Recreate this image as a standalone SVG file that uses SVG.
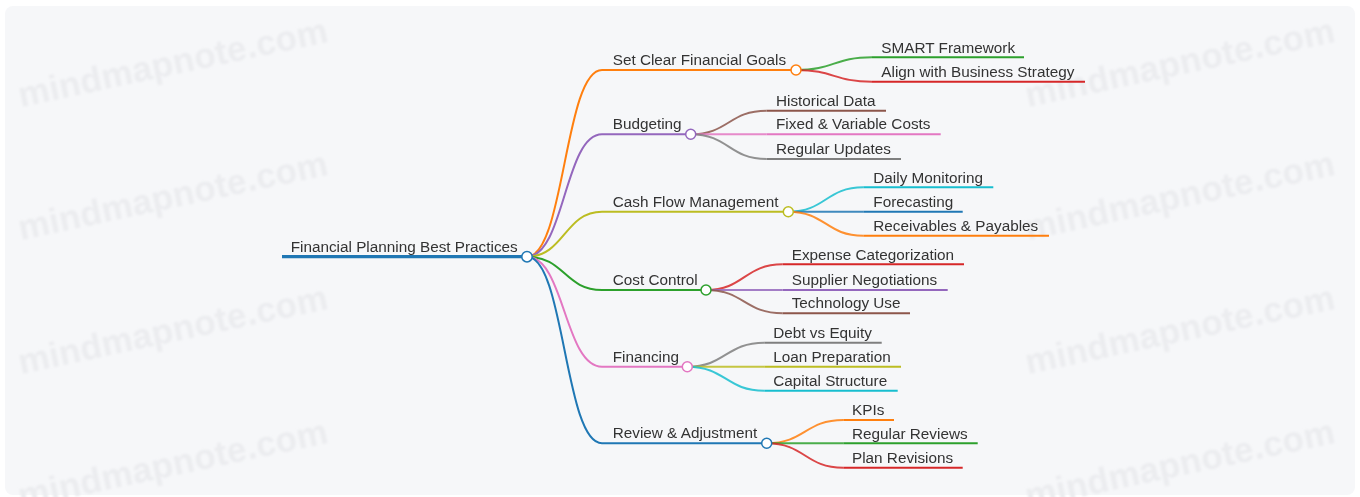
<svg xmlns="http://www.w3.org/2000/svg" width="1360" height="497" viewBox="0 0 1360 497">
  <defs>
    <filter id="soft" x="-5%" y="-20%" width="110%" height="140%">
      <feGaussianBlur stdDeviation="0.8"/>
    </filter>
  </defs>
  <style>
    .wm { font-family: "Liberation Sans", Arial, sans-serif; font-size: 35px; font-weight: bold; fill: #ebecef; letter-spacing: 0.3px; }
    .lbl { font-family: "Liberation Sans", Arial, sans-serif; font-size: 15.3px; fill: #333; }
    .ul { fill: none; stroke-linecap: butt; }
    .link { fill: none; stroke-width: 2; }
    .sub { stroke-opacity: 0.85; }
    .dot { fill: #fff; stroke-width: 1.5; }
  </style>

  <rect x="0" y="0" width="1360" height="497" fill="#fff"/>
  <rect x="5" y="6" width="1350" height="489" rx="8" fill="#f6f7f9"/>

  <!-- watermark grid -->
  <g id="watermark" filter="url(#soft)">
    <text class="wm" transform="translate(21 107) rotate(-12)">mindmapnote.com</text>
    <text class="wm" transform="translate(21 240) rotate(-12)">mindmapnote.com</text>
    <text class="wm" transform="translate(21 374) rotate(-12)">mindmapnote.com</text>
    <text class="wm" transform="translate(21 508) rotate(-12)">mindmapnote.com</text>
    <text class="wm" transform="translate(1028 107) rotate(-12)">mindmapnote.com</text>
    <text class="wm" transform="translate(1028 240) rotate(-12)">mindmapnote.com</text>
    <text class="wm" transform="translate(1028 374) rotate(-12)">mindmapnote.com</text>
    <text class="wm" transform="translate(1028 508) rotate(-12)">mindmapnote.com</text>
  </g>

  <!-- connectors -->
  <g id="links">
    <!-- root to main branches -->
    <path class="link" stroke="#ff7f0e" d="M527,256.7 C564.5,256.7 564.5,70 602,70"/>
    <path class="link" stroke="#9467bd" d="M527,256.7 C564.5,256.7 564.5,134.3 602,134.3"/>
    <path class="link" stroke="#bcbd22" d="M527,256.7 C564.5,256.7 564.5,211.7 602,211.7"/>
    <path class="link" stroke="#2ca02c" d="M527,256.7 C564.5,256.7 564.5,290 602,290"/>
    <path class="link" stroke="#e377c2" d="M527,256.7 C564.5,256.7 564.5,366.7 602,366.7"/>
    <path class="link" stroke="#1f77b4" d="M527,256.7 C564.5,256.7 564.5,443.3 602,443.3"/>

    <!-- Set Clear Financial Goals -->
    <path class="link sub" stroke="#2ca02c" d="M796,70 C834,70 834,57.3 872,57.3"/>
    <path class="link sub" stroke="#d62728" d="M796,70 C834,70 834,81.7 872,81.7"/>

    <!-- Budgeting -->
    <path class="link sub" stroke="#8c564b" d="M690.7,134.3 C728.7,134.3 728.7,110.7 766.7,110.7"/>
    <path class="link sub" stroke="#e377c2" d="M690.7,134.3 L766.7,134.3"/>
    <path class="link sub" stroke="#7f7f7f" d="M690.7,134.3 C728.7,134.3 728.7,159 766.7,159"/>

    <!-- Cash Flow Management -->
    <path class="link sub" stroke="#17becf" d="M788.3,211.7 C825.8,211.7 825.8,187.3 863.3,187.3"/>
    <path class="link sub" stroke="#1f77b4" d="M788.3,211.7 L863.3,211.7"/>
    <path class="link sub" stroke="#ff7f0e" d="M788.3,211.7 C825.8,211.7 825.8,235.7 863.3,235.7"/>

    <!-- Cost Control -->
    <path class="link sub" stroke="#d62728" d="M706,290 C744.3,290 744.3,264.3 782.7,264.3"/>
    <path class="link sub" stroke="#9467bd" d="M706,290 L782.7,290"/>
    <path class="link sub" stroke="#8c564b" d="M706,290 C744.3,290 744.3,313.3 782.7,313.3"/>

    <!-- Financing -->
    <path class="link sub" stroke="#7f7f7f" d="M687.3,366.7 C725.8,366.7 725.8,342.7 764.3,342.7"/>
    <path class="link sub" stroke="#bcbd22" d="M687.3,366.7 L764.3,366.7"/>
    <path class="link sub" stroke="#17becf" d="M687.3,366.7 C725.8,366.7 725.8,390.7 764.3,390.7"/>

    <!-- Review & Adjustment -->
    <path class="link sub" stroke="#ff7f0e" d="M766.7,443.3 C805,443.3 805,420 843.3,420"/>
    <path class="link sub" stroke="#2ca02c" d="M766.7,443.3 L843.3,443.3"/>
    <path class="link sub" stroke="#d62728" d="M766.7,443.3 C805,443.3 805,467.7 843.3,467.7"/>
  </g>

  <!-- root -->
  <g id="node-root">
    <line class="ul" x1="282" y1="256.7" x2="527" y2="256.7" stroke="#1f77b4" stroke-width="3.3"/>
    <text class="lbl" x="290.7" y="251.7">Financial Planning Best Practices</text>
    <circle class="dot" cx="527" cy="256.7" r="5.2" stroke="#1f77b4"/>
  </g>

  <!-- main branches -->
  <g id="node-goals">
    <line class="ul" x1="602" y1="70" x2="796" y2="70" stroke="#ff7f0e" stroke-width="2"/>
    <text class="lbl" x="612.7" y="64.7">Set Clear Financial Goals</text>
    <circle class="dot" cx="796" cy="70" r="5" stroke="#ff7f0e"/>
  </g>
  <g id="node-budgeting">
    <line class="ul" x1="602" y1="134.3" x2="690.7" y2="134.3" stroke="#9467bd" stroke-width="2"/>
    <text class="lbl" x="612.7" y="129.3">Budgeting</text>
    <circle class="dot" cx="690.7" cy="134.3" r="5" stroke="#9467bd"/>
  </g>
  <g id="node-cashflow">
    <line class="ul" x1="602" y1="211.7" x2="788.3" y2="211.7" stroke="#bcbd22" stroke-width="2"/>
    <text class="lbl" x="612.7" y="206.7">Cash Flow Management</text>
    <circle class="dot" cx="788.3" cy="211.7" r="5" stroke="#bcbd22"/>
  </g>
  <g id="node-cost">
    <line class="ul" x1="602" y1="290" x2="706" y2="290" stroke="#2ca02c" stroke-width="2"/>
    <text class="lbl" x="612.7" y="285">Cost Control</text>
    <circle class="dot" cx="706" cy="290" r="5" stroke="#2ca02c"/>
  </g>
  <g id="node-financing">
    <line class="ul" x1="602" y1="366.7" x2="687.3" y2="366.7" stroke="#e377c2" stroke-width="2"/>
    <text class="lbl" x="612.7" y="361.7">Financing</text>
    <circle class="dot" cx="687.3" cy="366.7" r="5" stroke="#e377c2"/>
  </g>
  <g id="node-review">
    <line class="ul" x1="602" y1="443.3" x2="766.7" y2="443.3" stroke="#1f77b4" stroke-width="2"/>
    <text class="lbl" x="612.7" y="438.3">Review &amp; Adjustment</text>
    <circle class="dot" cx="766.7" cy="443.3" r="5" stroke="#1f77b4"/>
  </g>

  <!-- leaves: Set Clear Financial Goals -->
  <g id="node-smart">
    <line class="ul" x1="872" y1="57.3" x2="1024" y2="57.3" stroke="#2ca02c" stroke-width="2"/>
    <text class="lbl" x="881.3" y="52.5">SMART Framework</text>
  </g>
  <g id="node-align">
    <line class="ul" x1="872" y1="81.7" x2="1085" y2="81.7" stroke="#d62728" stroke-width="2"/>
    <text class="lbl" x="881.3" y="76.7">Align with Business Strategy</text>
  </g>

  <!-- leaves: Budgeting -->
  <g id="node-historical">
    <line class="ul" x1="766.7" y1="110.7" x2="886" y2="110.7" stroke="#8c564b" stroke-width="2"/>
    <text class="lbl" x="776" y="105.7">Historical Data</text>
  </g>
  <g id="node-fixed">
    <line class="ul" x1="766.7" y1="134.3" x2="940.7" y2="134.3" stroke="#e377c2" stroke-width="2"/>
    <text class="lbl" x="776" y="129.3">Fixed &amp; Variable Costs</text>
  </g>
  <g id="node-updates">
    <line class="ul" x1="766.7" y1="159" x2="901" y2="159" stroke="#7f7f7f" stroke-width="2"/>
    <text class="lbl" x="776" y="153.7">Regular Updates</text>
  </g>

  <!-- leaves: Cash Flow Management -->
  <g id="node-daily">
    <line class="ul" x1="863.3" y1="187.3" x2="993.3" y2="187.3" stroke="#17becf" stroke-width="2"/>
    <text class="lbl" x="873.3" y="182.5">Daily Monitoring</text>
  </g>
  <g id="node-forecasting">
    <line class="ul" x1="863.3" y1="211.7" x2="962.7" y2="211.7" stroke="#1f77b4" stroke-width="2"/>
    <text class="lbl" x="873.3" y="206.7">Forecasting</text>
  </g>
  <g id="node-receivables">
    <line class="ul" x1="863.3" y1="235.7" x2="1049" y2="235.7" stroke="#ff7f0e" stroke-width="2"/>
    <text class="lbl" x="873.3" y="230.9">Receivables &amp; Payables</text>
  </g>

  <!-- leaves: Cost Control -->
  <g id="node-expense">
    <line class="ul" x1="782.7" y1="264.3" x2="964" y2="264.3" stroke="#d62728" stroke-width="2"/>
    <text class="lbl" x="791.7" y="260.3">Expense Categorization</text>
  </g>
  <g id="node-supplier">
    <line class="ul" x1="782.7" y1="290" x2="947.7" y2="290" stroke="#9467bd" stroke-width="2"/>
    <text class="lbl" x="791.7" y="285">Supplier Negotiations</text>
  </g>
  <g id="node-technology">
    <line class="ul" x1="782.7" y1="313.3" x2="910" y2="313.3" stroke="#8c564b" stroke-width="2"/>
    <text class="lbl" x="791.7" y="308.3">Technology Use</text>
  </g>

  <!-- leaves: Financing -->
  <g id="node-debt">
    <line class="ul" x1="764.3" y1="342.7" x2="881.7" y2="342.7" stroke="#7f7f7f" stroke-width="2"/>
    <text class="lbl" x="773.3" y="338.3">Debt vs Equity</text>
  </g>
  <g id="node-loan">
    <line class="ul" x1="764.3" y1="366.7" x2="901" y2="366.7" stroke="#bcbd22" stroke-width="2"/>
    <text class="lbl" x="773.3" y="361.7">Loan Preparation</text>
  </g>
  <g id="node-capital">
    <line class="ul" x1="764.3" y1="390.7" x2="897.7" y2="390.7" stroke="#17becf" stroke-width="2"/>
    <text class="lbl" x="773.3" y="385.7">Capital Structure</text>
  </g>

  <!-- leaves: Review & Adjustment -->
  <g id="node-kpis">
    <line class="ul" x1="843.3" y1="420" x2="894" y2="420" stroke="#ff7f0e" stroke-width="2"/>
    <text class="lbl" x="852" y="415">KPIs</text>
  </g>
  <g id="node-reviews">
    <line class="ul" x1="843.3" y1="443.3" x2="977.7" y2="443.3" stroke="#2ca02c" stroke-width="2"/>
    <text class="lbl" x="852" y="438.5">Regular Reviews</text>
  </g>
  <g id="node-revisions">
    <line class="ul" x1="843.3" y1="467.7" x2="962.7" y2="467.7" stroke="#d62728" stroke-width="2"/>
    <text class="lbl" x="852" y="462.7">Plan Revisions</text>
  </g>
</svg>
